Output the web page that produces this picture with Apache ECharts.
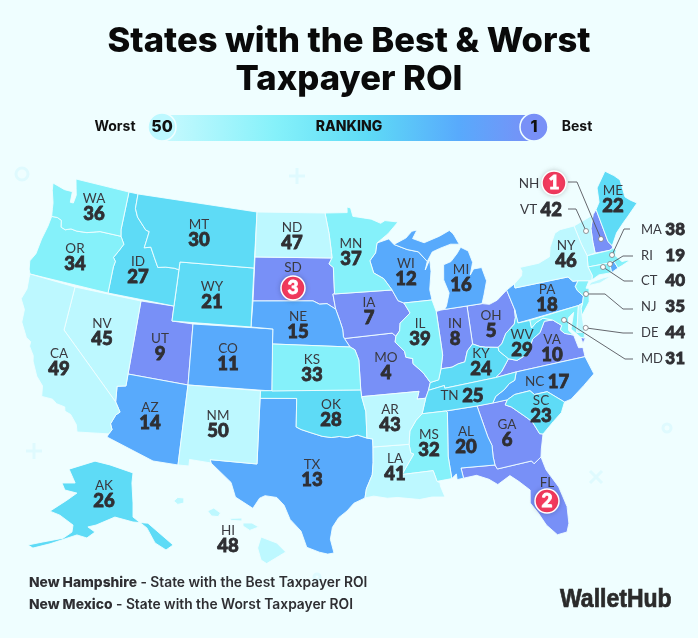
<!DOCTYPE html>
<html>
<head>
<meta charset="utf-8">
<style>html,body{margin:0;padding:0;background:#EFFEFF}#chart{width:698px;height:638px}</style>
<script src="https://cdn.jsdelivr.net/npm/echarts@6/dist/echarts.min.js"></script>
</head>
<body>
<div id="chart"></div>
<script>
// rank per state
var stateCodes = ['NH','FL','SD','MO','OH','GA','IA','IN','UT','VA','CO','WI','TX','AZ','NE','MI','NC','PA','RI','AL',
                  'WY','ME','SC','KY','TN','AK','ID','OK','WV','MT','MD','MS','KS','OR','NJ','WA','MN','MA','IL','CT',
                  'LA','VT','AR','DE','NV','NY','ND','HI','CA','NM'];
var ranks = [1,2,3,4,5,6,7,8,9,10,11,12,13,14,15,16,17,18,19,20,
             21,22,23,24,25,26,27,28,29,30,31,32,33,34,35,36,37,38,39,40,
             41,42,43,44,45,46,47,48,49,50];
var bandLimits = [[1,10],[11,20],[21,30],[31,40],[41,50]];
var bandColors = ['#7890F7','#58AAFC','#5EDBF6','#85F1FA','#BDF8FF'];
var titleLines = ['States with the Best & Worst','Taxpayer ROI'];

// state outlines, lon/lat
var stateShapes = {
  WA:[[[-124.73,48.38],[-123.5,48.13],[-122.75,48.12],[-122.65,47.4],[-122.35,47.4],[-122.3,47.95],[-122.5,48.4],[-122.75,49],[-117.03,49],[-117.04,46.42],[-116.92,45.99],[-118.98,46],[-119.3,45.93],[-120.2,45.72],[-121.2,45.65],[-121.8,45.7],[-122.3,45.55],[-122.75,45.65],[-122.95,46.1],[-123.4,46.22],[-123.95,46.2],[-124.1,46.7],[-124.2,47.1],[-124.6,47.9]]],
  OR:[[[-123.95,46.2],[-123.4,46.22],[-122.95,46.1],[-122.75,45.65],[-122.3,45.55],[-121.8,45.7],[-121.2,45.65],[-120.2,45.72],[-119.3,45.93],[-118.98,46],[-116.92,45.99],[-116.5,45.5],[-116.85,44.95],[-117.2,44.45],[-116.95,44.2],[-117.03,43.8],[-117.03,42],[-124.21,42],[-124.4,42.3],[-124.55,42.84],[-124.2,43.4],[-124.1,44.5],[-123.97,45.5]]],
  CA:[[[-124.21,42],[-120,42],[-120,39],[-114.63,35],[-114.14,34.3],[-114.43,34.05],[-114.72,33.4],[-114.52,33.03],[-114.72,32.72],[-117.13,32.53],[-117.3,33],[-117.9,33.6],[-118.4,33.75],[-118.5,34.03],[-119.2,34.15],[-119.6,34.4],[-120.5,34.45],[-120.65,35.15],[-121.3,35.7],[-121.9,36.6],[-122,36.95],[-122.5,37.5],[-122.5,37.8],[-122.95,38],[-123.7,38.9],[-123.8,39.7],[-124.35,40.3],[-124.1,41],[-124.2,41.75]]],
  NV:[[[-120,42],[-114.04,42],[-114.04,36.2],[-114.75,36.1],[-114.63,35],[-120,39]]],
  ID:[[[-117.03,49],[-116.05,49],[-116.05,48],[-115.7,47.45],[-114.7,46.7],[-114.35,46.65],[-114.55,45.56],[-113.95,45.7],[-113.45,45.05],[-113,44.45],[-112.3,44.55],[-111.5,44.55],[-111.05,44.48],[-111.05,42],[-117.03,42],[-117.03,43.8],[-116.95,44.2],[-117.2,44.45],[-116.85,44.95],[-116.5,45.5],[-116.92,45.99],[-117.04,46.42]]],
  MT:[[[-116.05,49],[-104.05,49],[-104.05,45],[-111.05,45],[-111.05,44.48],[-111.5,44.55],[-112.3,44.55],[-113,44.45],[-113.45,45.05],[-113.95,45.7],[-114.55,45.56],[-114.35,46.65],[-114.7,46.7],[-115.7,47.45],[-116.05,48]]],
  WY:[[[-111.05,45],[-104.05,45],[-104.05,41],[-111.05,41]]],
  UT:[[[-114.04,42],[-111.05,42],[-111.05,41],[-109.05,41],[-109.05,37],[-114.04,37]]],
  CO:[[[-109.05,41],[-102.05,41],[-102.05,37],[-109.05,37]]],
  AZ:[[[-114.04,37],[-109.05,37],[-109.05,31.33],[-111.07,31.33],[-114.81,32.5],[-114.72,32.72],[-114.52,33.03],[-114.72,33.4],[-114.43,34.05],[-114.14,34.3],[-114.63,35],[-114.75,36.1],[-114.04,36.2]]],
  NM:[[[-109.05,37],[-103,37],[-103.04,32],[-106.62,32],[-106.53,31.78],[-108.21,31.78],[-108.21,31.33],[-109.05,31.33]]],
  ND:[[[-104.05,49],[-97.23,49],[-96.85,47.6],[-96.6,46.3],[-96.56,45.94],[-104.05,45.94]]],
  SD:[[[-104.05,45.94],[-96.56,45.94],[-96.85,45.55],[-96.45,45.3],[-96.45,43.5],[-96.6,43.5],[-96.45,42.49],[-97.2,42.85],[-97.9,42.8],[-98.5,43],[-104.05,43]]],
  NE:[[[-104.05,43],[-98.5,43],[-97.9,42.8],[-97.2,42.85],[-96.45,42.49],[-96.1,41.7],[-95.9,41.2],[-95.85,40.7],[-95.77,40.58],[-95.31,40],[-102.05,40],[-102.05,41],[-104.05,41]]],
  KS:[[[-102.05,40],[-95.31,40],[-94.9,39.8],[-94.6,39.1],[-94.62,37],[-102.05,37]]],
  OK:[[[-103,37],[-94.62,37],[-94.62,36.5],[-94.43,35.4],[-94.48,33.64],[-95.2,33.88],[-96,33.75],[-96.6,33.85],[-97.2,33.8],[-97.9,33.9],[-98.8,34.15],[-99.6,34.38],[-100,34.56],[-100,36.5],[-103,36.5]]],
  TX:[[[-103,36.5],[-100,36.5],[-100,34.56],[-99.6,34.38],[-98.8,34.15],[-97.9,33.9],[-97.2,33.8],[-96.6,33.85],[-96,33.75],[-95.2,33.88],[-94.48,33.64],[-94.04,33.55],[-94.04,33.02],[-94.04,32],[-93.55,31.2],[-93.72,30.3],[-93.85,29.7],[-94.7,29.4],[-95.3,28.9],[-96.4,28.4],[-97.2,27.7],[-97.4,26.9],[-97.15,25.96],[-97.6,25.9],[-98.2,26.05],[-99.1,26.4],[-99.5,27.5],[-100.3,28.3],[-100.8,29.25],[-101.4,29.77],[-102.3,29.88],[-102.7,29.7],[-103.15,28.98],[-104.5,29.65],[-104.9,30.6],[-106.53,31.78],[-106.62,32],[-103.04,32]]],
  MN:[[[-97.23,49],[-95.15,49],[-95.15,49.38],[-94.8,49.3],[-94.6,48.72],[-93.5,48.55],[-92.5,48.4],[-91.4,48.05],[-90.8,48.2],[-89.5,48],[-90.8,47.3],[-92.1,46.75],[-92.3,46.1],[-92.9,45.6],[-92.75,44.75],[-91.9,44.3],[-91.22,43.5],[-96.45,43.5],[-96.45,45.3],[-96.85,45.55],[-96.56,45.94],[-96.6,46.3],[-96.85,47.6]]],
  IA:[[[-96.6,43.5],[-91.22,43.5],[-91.1,42.7],[-90.64,42.5],[-90.15,41.8],[-91.05,41.2],[-91.1,40.7],[-91.42,40.38],[-91.73,40.61],[-95.77,40.58],[-95.85,40.7],[-95.9,41.2],[-96.1,41.7],[-96.45,42.49]]],
  MO:[[[-95.77,40.58],[-91.73,40.61],[-91.42,40.38],[-91.5,40],[-90.75,39.3],[-90.7,38.9],[-90.15,38.75],[-90.2,38.4],[-89.55,37.7],[-89.15,37],[-89.4,36.5],[-89.7,36],[-90.37,36],[-90.15,36.5],[-94.62,36.5],[-94.62,37],[-94.6,39.1],[-94.9,39.8],[-95.31,40]]],
  AR:[[[-94.62,36.5],[-90.15,36.5],[-90.37,36],[-89.7,36],[-90.1,35],[-90.6,34.6],[-91.1,33.9],[-91.2,33],[-94.04,33.02],[-94.04,33.55],[-94.48,33.64],[-94.43,35.4]]],
  LA:[[[-94.04,33.02],[-91.2,33],[-91.1,32.4],[-90.9,32.3],[-91.6,31],[-89.73,31],[-89.6,30.18],[-89.4,30.05],[-89.4,29.8],[-89.15,29.05],[-90.1,29.15],[-90.9,29.1],[-91.8,29.5],[-92.3,29.55],[-93.2,29.78],[-93.85,29.7],[-93.72,30.3],[-93.55,31.2],[-94.04,32]]],
  MS:[[[-90.1,35],[-88.2,35],[-88.1,34.9],[-88.47,31.9],[-88.4,30.35],[-89.6,30.18],[-89.73,31],[-91.6,31],[-90.9,32.3],[-91.1,32.4],[-91.2,33],[-91.1,33.9],[-90.6,34.6]]],
  AL:[[[-88.2,35],[-85.6,34.98],[-85.18,32.87],[-85,32.3],[-85.05,31.55],[-85,31],[-87.6,31],[-87.5,30.3],[-88,30.25],[-88,30.65],[-88.4,30.35],[-88.47,31.9],[-88.1,34.9]]],
  GA:[[[-85.6,34.98],[-83.1,35],[-83.35,34.7],[-82.9,34.45],[-82,33.5],[-81.5,33],[-81.1,32.1],[-80.85,32.03],[-81.3,31.2],[-81.45,30.71],[-82.05,30.36],[-82.2,30.57],[-84.86,30.71],[-85,31],[-85.05,31.55],[-85,32.3],[-85.18,32.87]]],
  FL:[[[-87.6,31],[-85,31],[-84.86,30.71],[-82.2,30.57],[-82.05,30.36],[-81.45,30.71],[-81.25,29.8],[-80.5,28.45],[-80.05,26.9],[-80.15,25.75],[-80.4,25.2],[-81.1,25.15],[-81.75,25.95],[-82.2,26.9],[-82.75,27.8],[-82.65,28.7],[-83.4,29.5],[-84,30.1],[-85,29.65],[-85.6,30.1],[-86.5,30.4],[-87.5,30.3]]],
  SC:[[[-83.35,34.7],[-83.1,35],[-82.4,35.2],[-81.05,35.15],[-80.8,34.82],[-79.67,34.8],[-78.55,33.86],[-79.1,33.2],[-79.9,32.7],[-80.85,32.03],[-81.1,32.1],[-81.5,33],[-82,33.5],[-82.9,34.45]]],
  NC:[[[-84.32,35],[-83.1,35],[-82.4,35.2],[-81.05,35.15],[-80.8,34.82],[-79.67,34.8],[-78.55,33.86],[-77.9,33.95],[-76.55,34.65],[-75.55,35.25],[-75.9,36.55],[-81.68,36.59],[-82.05,36.1],[-82.6,36],[-83.2,35.7],[-84,35.4]]],
  TN:[[[-90.1,35],[-88.2,35],[-85.6,34.98],[-84.32,35],[-84,35.4],[-83.2,35.7],[-82.6,36],[-82.05,36.1],[-81.68,36.59],[-83.68,36.6],[-88.07,36.5],[-88.07,36.68],[-89.4,36.5],[-89.7,36]]],
  KY:[[[-89.4,36.5],[-88.07,36.68],[-88.07,36.5],[-83.68,36.6],[-83,36.85],[-81.97,37.54],[-82.6,38.17],[-82.6,38.42],[-83.7,38.65],[-84.2,38.8],[-84.8,39.1],[-85.4,38.7],[-85.9,38],[-86.5,37.95],[-87.1,37.8],[-88.05,37.8],[-88.45,37.1],[-89.15,37]]],
  IL:[[[-90.64,42.5],[-87.8,42.5],[-87.55,41.7],[-87.53,39.35],[-87.6,38.7],[-88.05,37.8],[-88.45,37.1],[-89.15,37],[-89.55,37.7],[-90.2,38.4],[-90.15,38.75],[-90.7,38.9],[-90.75,39.3],[-91.5,40],[-91.42,40.38],[-91.1,40.7],[-91.05,41.2],[-90.15,41.8]]],
  IN:[[[-87.55,41.7],[-87.2,41.75],[-86.8,41.76],[-84.8,41.76],[-84.8,39.1],[-85.4,38.7],[-85.9,38],[-86.5,37.95],[-87.1,37.8],[-88.05,37.8],[-87.6,38.7],[-87.53,39.35]]],
  OH:[[[-84.8,41.76],[-83.45,41.73],[-82.7,41.5],[-81.7,41.5],[-80.52,41.98],[-80.52,40.64],[-80.65,40.1],[-80.85,39.7],[-81.7,39.2],[-82.2,38.6],[-82.6,38.42],[-83.7,38.65],[-84.2,38.8],[-84.8,39.1]]],
  MI:[[[-86.8,41.76],[-84.8,41.76],[-83.45,41.73],[-83.1,42.25],[-82.45,43],[-82.6,43.9],[-83.4,43.95],[-83.9,43.65],[-83.3,44.35],[-83.35,45.05],[-84.7,45.78],[-85.1,45.4],[-85.6,44.85],[-86.25,44.7],[-86.5,43.7],[-86.2,42.8],[-86.6,41.95]],
      [[-90.4,46.55],[-89,46.95],[-88.4,47.4],[-87.9,47.45],[-88.4,46.9],[-87.4,46.5],[-86.1,46.65],[-85,46.75],[-84.6,46.45],[-84,46],[-84.7,45.95],[-85.5,46.05],[-86.4,45.85],[-87,45.7],[-87.6,45.1],[-88.1,45.9],[-89.1,46.15]]],
  WI:[[[-92.1,46.75],[-90.9,46.95],[-90.4,46.55],[-89.1,46.15],[-88.1,45.9],[-87.6,45.1],[-88,44.55],[-87.35,45.2],[-87.5,44.4],[-87.9,43.2],[-87.8,42.5],[-90.64,42.5],[-91.1,42.7],[-91.22,43.5],[-91.9,44.3],[-92.75,44.75],[-92.9,45.6],[-92.3,46.1]]],
  PA:[[[-80.52,41.98],[-79.76,42.27],[-79.76,42],[-75.35,42],[-75.05,41.6],[-74.7,41.36],[-75.13,40.99],[-75.2,40.65],[-74.73,40.15],[-75.42,39.8],[-75.79,39.72],[-80.52,39.72],[-80.52,40.64]]],
  NY:[[[-79.76,42.27],[-79,42.7],[-78.9,43],[-79.05,43.27],[-77.5,43.25],[-76.5,43.5],[-76.2,44.05],[-75.3,44.85],[-74.7,45],[-73.35,45],[-73.4,43.6],[-73.25,42.75],[-73.5,42.05],[-73.5,41.3],[-73.65,41],[-73.9,41],[-74.7,41.36],[-75.05,41.6],[-75.35,42],[-79.76,42]],
      [[-74,40.6],[-73,40.65],[-71.9,41.07],[-72.6,40.98],[-73.75,40.85]]],
  NJ:[[[-74.7,41.36],[-73.9,41],[-74.25,40.47],[-74,40.4],[-74.1,39.75],[-74.9,38.93],[-75.55,39.5],[-75.42,39.8],[-74.73,40.15],[-75.2,40.65],[-75.13,40.99]]],
  DE:[[[-75.79,39.72],[-75.42,39.8],[-75.55,39.5],[-75.05,38.45],[-75.7,38.46]]],
  MD:[[[-79.48,39.72],[-75.79,39.72],[-75.7,38.46],[-75.05,38.45],[-75.25,38.03],[-75.65,37.95],[-76.2,38.6],[-76.1,39.4],[-76.45,39.2],[-76.5,38.5],[-76.3,38.05],[-77,38.3],[-77.25,38.6],[-77.05,38.85],[-77.72,39.32],[-78.4,39.62],[-79,39.47],[-79.48,39.2]]],
  VA:[[[-83.68,36.6],[-81.68,36.59],[-75.9,36.55],[-76,36.95],[-76.35,37],[-76.3,38.05],[-77,38.3],[-77.25,38.6],[-77.05,38.85],[-77.72,39.32],[-78.35,39.4],[-78.9,38.75],[-79.6,38.45],[-80.3,37.55],[-81.3,37.3],[-81.97,37.54],[-83,36.85]],
      [[-75.25,38.03],[-75.65,37.95],[-75.95,37.15],[-75.6,37.5]]],
  WV:[[[-80.52,40.64],[-80.52,39.72],[-79.48,39.72],[-79.48,39.2],[-79,39.47],[-78.4,39.62],[-77.72,39.32],[-78.35,39.4],[-78.9,38.75],[-79.6,38.45],[-80.3,37.55],[-81.3,37.3],[-81.97,37.54],[-82.6,38.17],[-82.6,38.42],[-82.2,38.6],[-81.7,39.2],[-80.85,39.7],[-80.65,40.1]]],
  CT:[[[-73.5,42.05],[-71.8,42.02],[-71.85,41.32],[-72.9,41.25],[-73.65,41],[-73.5,41.3]]],
  RI:[[[-71.8,42.02],[-71.38,42.02],[-71.15,41.5],[-71.85,41.32]]],
  MA:[[[-73.5,42.05],[-73.25,42.75],[-71.3,42.7],[-70.8,42.87],[-70.6,42.65],[-71,42.3],[-70.55,41.8],[-70,41.78],[-70.25,42.07],[-69.95,41.7],[-70.65,41.55],[-71.15,41.5],[-71.38,42.02],[-71.8,42.02]]],
  VT:[[[-73.35,45],[-71.5,45.01],[-72.05,44.3],[-72.4,43.5],[-72.46,42.73],[-73.25,42.75],[-73.4,43.6]]],
  NH:[[[-71.5,45.01],[-71.08,45.3],[-70.98,43.4],[-70.7,43.07],[-70.8,42.87],[-71.3,42.7],[-72.46,42.73],[-72.4,43.5],[-72.05,44.3]]],
  ME:[[[-71.08,45.3],[-70.4,45.75],[-70,46.7],[-69.23,47.46],[-68.3,47.35],[-67.8,47.07],[-67.8,45.7],[-67.45,45.3],[-67,44.85],[-68.2,44.3],[-69,44.1],[-70,43.75],[-70.7,43.07],[-70.98,43.4]]],
  AK:[[[-151.7,72.6],[-159,70.9],[-157.3,67.95],[-161,67.95],[-160.2,66.46],[-156.8,65.8],[-159.6,64.3],[-164.4,61.96],[-161.6,61.1],[-157.9,59],[-158.2,57.5],[-160.7,56.2],[-166.4,55.4],[-170.6,54.76],[-169.2,54.1],[-164.4,55],[-156.8,56.9],[-154,56.25],[-151.7,57.5],[-153.7,58.6],[-151.4,59],[-146.1,60.7],[-141,59.65],[-136.8,59.4],[-129.7,54.76],[-131.7,53.7],[-134.8,55.2],[-137.1,58.4],[-141,60.7],[-141,63.7],[-141.3,67.95],[-141,70.1],[-147.5,71.8]]],
  HI:[[[-159.78,22.05],[-159.6,22.23],[-159.33,22.2],[-159.33,21.95],[-159.6,21.88]],
      [[-158.27,21.55],[-158,21.7],[-157.7,21.45],[-157.8,21.27],[-158.1,21.3]],
      [[-157.3,21.18],[-156.75,21.2],[-156.75,21.05],[-157.2,21.08]],
      [[-156.7,20.95],[-156.3,20.95],[-156,20.75],[-156.4,20.58],[-156.7,20.8]],
      [[-155.9,20.25],[-155.2,19.95],[-154.8,19.5],[-155.65,18.92],[-155.9,19.1],[-156.05,19.7]]]
};

// where the text sits on the page
var labelSpots = {WA:[94,207],OR:[75,257],MT:[199,233],ND:[292,236],ID:[138,270],WY:[212,295],NE:[298,325],NV:[102,332],
  UT:[160,347],CO:[228,357],KS:[312,368],CA:[59,362],MN:[351,252],WI:[406,272],MI:[461,278],IA:[369,311],IL:[420,332],
  IN:[455,332],OH:[491,324],PA:[547,298],NY:[566,254],WV:[522,343],VA:[552,348],KY:[481,362],MO:[386,366],SC:[541,409],
  AR:[390,418],MS:[429,443],AL:[466,440],GA:[507,433],LA:[395,467],OK:[331,413],AZ:[150,416],NM:[218,424],TX:[312,473],
  AK:[104,494],HI:[228,539],ME:[613,199]};
var inlineSpots = {NC:[547,382],TN:[462,396],VT:[541,210]};
var codeOnlySpots = {NH:[529,184],SD:[293,268],FL:[547,483]};
var badgeSpots = {NH:[554,183],SD:[293,288],FL:[547,501]};
var calloutRows = {MA:[663,230],RI:[663,256],CT:[663,281],NJ:[663,307],DE:[663,333],MD:[663,359]};
var leaderPaths = [
  [[568,182],[577,182],[601,239]],
  [[568,209],[576,209],[586,231]],
  [[630,229],[624,229],[612,255]],
  [[633,256],[623,256],[610,264]],
  [[633,281],[624,281],[603,267]],
  [[633,309],[623,309],[605,294],[586,294]],
  [[633,333],[623,333],[583,323]],
  [[633,359],[625,359],[564,320]]
];
// lon, lat and where the picture has that corner; pulls the projection onto the picture's stylised map
var warpPoints = [
  [-124.73,48.38,53,183],[-122.75,49,76,179],[-117.03,49,129,192],[-116.05,49,138,194],[-104.05,49,257,212],[-97.23,49,325,213],
  [-104.05,45.94,255,257],[-96.56,45.94,332,258],[-111.05,45,180,262],[-104.05,45,254,268],[-111.05,41,172,321],[-104.05,41,251,327],
  [-109.05,41,193,324],[-102.05,41,273,329],[-109.05,37,188,385],[-102.05,37,272,391],[-114.04,42,141,301],[-114.04,37,128,374],
  [-120,42,75,287],[-120,39,64,330],[-124.21,42,30,274],[-117.03,42,108,293],[-95.31,40,350,347],[-104.05,43,253,301],
  [-69.23,47.46,605,171],[-67.8,47.07,620,180],[-67.8,45.7,625,197],[-70,46.7,597,188],[-67,44.85,637,203],[-70.7,43.07,612,246],
  [-71.5,45,593,215],[-73.35,45,574,226],[-72.46,42.73,595,253],[-71.3,42.7,610,250],[-73.5,42.05,588,267],[-71.8,42.02,610,263],
  [-70,41.78,628,260],[-73.65,41,592,280],[-74,40.4,589,288],[-74.1,39.75,589,302],[-74.9,38.93,580,317],[-75.05,38.45,585,333],[-75.95,37.15,583,343],
  [-79.76,42,515,288],[-75.35,42,568,277],
  [-75.42,39.8,583,303],[-80.52,39.72,518,323],[-75.9,36.55,585,357],[-84.8,41.76,467,306],[-90.64,42.5,404,303],[-87.8,42.5,432,300],
  [-91.22,43.5,392,290],[-84.7,45.78,462,248],[-92.1,46.75,377,243],[-87.9,47.45,417,230],[-84,46,453,235],[-95.15,49.38,347,207],[-89.5,48,398,222],
  [-94.04,33.02,373,447],[-88.2,35,446,411],[-85.6,34.98,477,406],[-85,31,495,465],[-87.6,31,461,468],[-80.4,25.2,567,532],
  [-81.45,30.71,541,457],[-80.85,32.03,543,434],[-93.85,29.7,365,498],[-89.15,29.05,445,497],[-97.15,25.96,334,553],
  [-106.53,31.78,211,463],[-103.04,32,257,464],[-109.05,31.33,178,465],[-111.07,31.33,153,461],[-114.81,32.5,107,437],[-117.13,32.53,77,432]
];

// Albers for the lower 48 plus a small correction; AK and HI are insets
var RAD = Math.PI / 180, N = 0.60285, C = 1.3512, R0 = 1.3032, S = 839;
var AFF = [1.05, 0.025, 344, -0.053, 1.02, 377];

function baseProject(lon, lat) {
  var t = N * (lon + 96) * RAD, r = Math.sqrt(C - 2 * N * Math.sin(lat * RAD)) / N;
  var u = S * r * Math.sin(t), v = -S * (R0 - r * Math.cos(t));
  return [AFF[0] * u + AFF[1] * v + AFF[2], AFF[3] * u + AFF[4] * v + AFF[5]];
}
function baseUnproject(q) {
  var dx = q[0] - AFF[2], dy = q[1] - AFF[5], det = AFF[0] * AFF[4] - AFF[1] * AFF[3];
  var u = (AFF[4] * dx - AFF[1] * dy) / det / S, v = (AFF[0] * dy - AFF[3] * dx) / det / S;
  var r = Math.sqrt(u * u + (R0 + v) * (R0 + v)), t = Math.atan2(u, R0 + v);
  return [t / N / RAD - 96, Math.asin((C - r * r * N * N) / (2 * N)) / RAD];
}
var warpField = warpPoints.map(function (w) {
  var b = baseProject(w[0], w[1]);
  return [b[0], b[1], w[2] - b[0], w[3] - b[1]];
});
function warpAt(b) {
  var sw = 0, sx = 0, sy = 0;
  warpField.forEach(function (f) {
    var d = (b[0] - f[0]) * (b[0] - f[0]) + (b[1] - f[1]) * (b[1] - f[1]);
    var w = 1 / ((d + 30) * (d + 30));
    sw += w; sx += w * f[2]; sy += w * f[3];
  });
  return [sx / sw, sy / sw];
}
var mapProjection = {
  project: function (p) {
    var lon = p[0], lat = p[1];
    if (lat > 50 && lon < -129) return [133 + 3.55 * (lon + 141), 475 - 4.7 * (lat - 69.65)];
    if (lat < 25 && lon < -150) return [270 + 22.5 * (lon + 155.5), 550 - 20 * (lat - 19.6)];
    var b = baseProject(lon, lat), k = warpAt(b);
    return [b[0] + k[0], b[1] + k[1]];
  },
  unproject: function (q) {
    var b = q.slice();
    for (var i = 0; i < 12; i++) {
      var k = warpAt(b);
      b = [q[0] - k[0], q[1] - k[1]];
    }
    return baseUnproject(b);
  }
};
var pageToGeo = mapProjection.unproject;

var features = [], box = [1e9, 1e9, -1e9, -1e9];
stateCodes.forEach(function (code) {
  stateShapes[code].forEach(function (ring) {
    ring.forEach(function (p) {
      var q = mapProjection.project(p);
      box = [Math.min(box[0], q[0]), Math.min(box[1], q[1]), Math.max(box[2], q[0]), Math.max(box[3], q[1])];
    });
  });
  features.push({
    type: 'Feature',
    properties: {name: code},
    geometry: {type: 'MultiPolygon', coordinates: stateShapes[code].map(function (ring) {
      return [ring.concat([ring[0]])];
    })}
  });
});
echarts.registerMap('USA', {type: 'FeatureCollection', features: features});

var rankOf = {};
stateCodes.forEach(function (c, i) { rankOf[c] = ranks[i]; });

function spotData(spots) {
  return Object.keys(spots).map(function (c) {
    return {name: c, value: pageToGeo(spots[c]).concat(rankOf[c])};
  });
}

var FONT = 'Inter';
var INK = '#2F2F33';
var pieces = bandLimits.map(function (b, i) { return {min: b[0], max: b[1], color: bandColors[i]}; });
var codeStyle = {fontFamily: 'Lato', fontSize: 13.5, fontWeight: 400, color: '#3A3A40', lineHeight: 15};
var rankStyle = {fontFamily: 'Lato', fontSize: 18.5, fontWeight: 900, color: INK, lineHeight: 17, textBorderColor: INK, textBorderWidth: 0.8};

function textSeries(data, formatter, rich) {
  return {
    type: 'scatter', coordinateSystem: 'geo', geoIndex: 0, symbolSize: 0, silent: true, z: 6,
    itemStyle: {opacity: 1},
    data: data,
    label: {show: true, position: 'inside', formatter: formatter, rich: rich}
  };
}

function deco(x, y, kind, r) {
  var st = {stroke: '#DFFAFE', lineWidth: 3, fill: 'none'};
  if (kind === 'ring') return {type: 'circle', shape: {cx: x, cy: y, r: r || 6}, style: st, silent: true};
  var d = kind === 'plus' ? [[-8, 0, 8, 0], [0, -8, 0, 8]] : [[-6, -6, 6, 6], [-6, 6, 6, -6]];
  return {type: 'group', silent: true, children: d.map(function (s) {
    return {type: 'line', shape: {x1: x + s[0], y1: y + s[1], x2: x + s[2], y2: y + s[3]}, style: st};
  })};
}

function footerLine(y, name, rest) {
  return {
    type: 'text', silent: true, x: 29, y: y,
    style: {
      text: '{a|' + name + '}{b|' + rest + '}', verticalAlign: 'middle',
      rich: {
        a: {font: '800 13.8px Inter', fill: INK},
        b: {font: '600 13.8px Inter', fill: INK}
      }
    }
  };
}

var chart = echarts.init(document.getElementById('chart'), null, {renderer: 'canvas'});
chart.setOption({
  animation: false,
  backgroundColor: '#EFFEFF',
  title: {
    text: titleLines.join('\n'), left: 'center', top: 18,
    textStyle: {fontFamily: FONT, fontSize: 34.6, fontWeight: 800, color: '#0A0A0A', lineHeight: 38}
  },
  visualMap: {type: 'piecewise', show: false, seriesIndex: 0, dimension: 0, pieces: pieces},
  geo: {
    map: 'USA', projection: mapProjection, roam: false, silent: true,
    layoutCenter: [(box[0] + box[2]) / 2, (box[1] + box[3]) / 2],
    layoutSize: Math.max(box[2] - box[0], box[3] - box[1]),
    label: {show: false},
    itemStyle: {areaColor: '#BDF8FF', borderColor: '#EFFEFF', borderWidth: 0.9},
    emphasis: {disabled: true}
  },
  series: [
    {
      type: 'map', geoIndex: 0, silent: true,
      data: stateCodes.map(function (c, i) { return {name: c, value: ranks[i]}; })
    },
    {
      type: 'lines', coordinateSystem: 'geo', geoIndex: 0, polyline: true, silent: true, z: 4,
      lineStyle: {color: '#55565C', width: 0.9, opacity: 1},
      data: leaderPaths.map(function (path) { return {coords: path.map(pageToGeo)}; })
    },
    {
      type: 'scatter', coordinateSystem: 'geo', geoIndex: 0, silent: true, z: 5, symbolSize: 5,
      itemStyle: {color: '#FFFFFF', borderColor: '#7A7B80', borderWidth: 0.8, opacity: 1},
      data: leaderPaths.map(function (path) { return {value: pageToGeo(path[path.length - 1])}; })
    },
    textSeries(spotData(labelSpots), function (p) {
      return '{c|' + p.name + '}\n{r|' + p.value[2] + '}';
    }, {c: codeStyle, r: rankStyle}),
    textSeries(spotData(inlineSpots), function (p) {
      return '{c|' + p.name + ' }{r|' + p.value[2] + '}';
    }, {c: codeStyle, r: rankStyle}),
    textSeries(spotData(codeOnlySpots), function (p) {
      return '{c|' + p.name + '}';
    }, {c: codeStyle}),
    textSeries(spotData(calloutRows), function (p) {
      return '{c|' + p.name + '}{r|' + p.value[2] + '}';
    }, {
      c: Object.assign({}, codeStyle, {fontSize: 13, width: 25, align: 'left'}),
      r: Object.assign({}, rankStyle, {fontSize: 17, width: 19, align: 'right'})
    }),
    {
      type: 'scatter', coordinateSystem: 'geo', geoIndex: 0, silent: true, z: 7, symbolSize: 24,
      itemStyle: {color: '#F43A5E', borderColor: '#FFFFFF', borderWidth: 1.5, opacity: 1, shadowBlur: 5, shadowColor: 'rgba(0,0,0,0.18)'},
      data: spotData(badgeSpots),
      label: {
        show: true, position: 'inside', color: '#FFFFFF', fontFamily: 'Lato', fontSize: 19, fontWeight: 900,
        textBorderColor: '#FFFFFF', textBorderWidth: 0.8,
        formatter: function (p) { return p.value[2]; }
      }
    }
  ],
  graphic: [
    deco(22, 174, 'ring'), deco(297, 176, 'plus'), deco(34, 451, 'plus'),
    deco(667, 428, 'ring', 4), deco(596, 477, 'cross'), deco(317, 577, 'ring', 3),
    {
      type: 'rect', silent: true, z: 1, shape: {x: 166, y: 115, width: 366, height: 26},
      style: {fill: new echarts.graphic.LinearGradient(0, 0, 1, 0, [
        {offset: 0, color: '#C5F9FE'}, {offset: 0.3, color: '#85F1FA'}, {offset: 0.55, color: '#5EDBF6'},
        {offset: 0.8, color: '#58AAFC'}, {offset: 1, color: '#7890F7'}
      ])}
    },
    {type: 'circle', silent: true, z: 2, shape: {cx: 162, cy: 127, r: 14}, style: {fill: '#BDF8FF', stroke: '#EFFEFF', lineWidth: 1.5}},
    {type: 'circle', silent: true, z: 2, shape: {cx: 534, cy: 127, r: 14}, style: {fill: '#7890F7', stroke: '#EFFEFF', lineWidth: 1.5}},
    {type: 'text', silent: true, z: 3, x: 115, y: 127, style: {text: 'Worst', fill: '#111', font: '700 14px Inter', align: 'center', verticalAlign: 'middle'}},
    {type: 'text', silent: true, z: 3, x: 162, y: 127, style: {text: '50', fill: '#111', font: '800 16px Inter', align: 'center', verticalAlign: 'middle'}},
    {type: 'text', silent: true, z: 3, x: 349, y: 127, style: {text: 'RANKING', fill: '#111', font: '800 14px Inter', align: 'center', verticalAlign: 'middle'}},
    {type: 'text', silent: true, z: 3, x: 534, y: 127, style: {text: '1', fill: '#111', font: '800 16px Inter', align: 'center', verticalAlign: 'middle'}},
    {type: 'text', silent: true, z: 3, x: 577, y: 127, style: {text: 'Best', fill: '#111', font: '700 14px Inter', align: 'center', verticalAlign: 'middle'}},
    footerLine(583, 'New Hampshire', ' - State with the Best Taxpayer ROI'),
    footerLine(605, 'New Mexico', ' - State with the Worst Taxpayer ROI'),
    {type: 'text', silent: true, x: 560, y: 600, scaleX: 0.885, style: {text: 'WalletHub', fill: '#2A2A2A', font: '700 26px "Liberation Sans"', verticalAlign: 'middle', stroke: '#2A2A2A', lineWidth: 0.7}}
  ]
});
</script>
</body>
</html>
